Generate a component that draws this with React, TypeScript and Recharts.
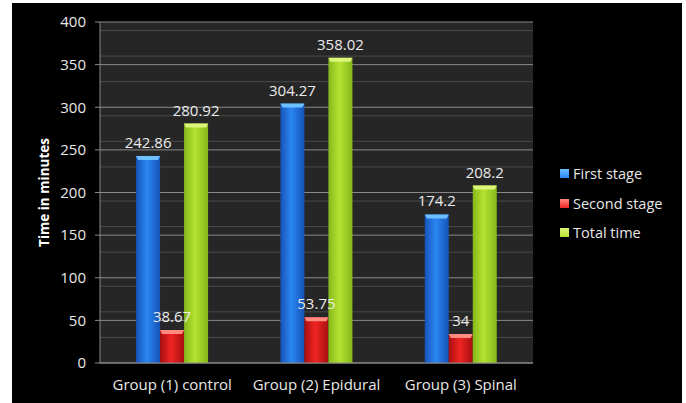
import React from "react";
import {
  BarChart,
  Bar,
  XAxis,
  YAxis,
  CartesianGrid,
  LabelList,
} from "recharts";

// groups on the x axis
const groups = ["Group (1) control", "Group (2) Epidural", "Group (3) Spinal"];

// times in minutes
const firstStage = [242.86, 304.27, 174.2];
const secondStage = [38.67, 53.75, 34];
const totalTime = [280.92, 358.02, 208.2];

const yTicks = [0, 50, 100, 150, 200, 250, 300, 350, 400];
const minorLines = [
  10, 20, 30, 40, 60, 70, 80, 90, 110, 120, 130, 140, 160, 170, 180, 190, 210,
  220, 230, 240, 260, 270, 280, 290, 310, 320, 330, 340, 360, 370, 380, 390,
];

const seriesInfo = [
  { key: "first", name: "First stage", id: "blue", edge: "#1553b8", mid: "#2b86f2", cap: "#6cc0ff" },
  { key: "second", name: "Second stage", id: "red", edge: "#a80f0f", mid: "#f02424", cap: "#ff8a80" },
  { key: "total", name: "Total time", id: "green", edge: "#84b81a", mid: "#b6e232", cap: "#dcf57a" },
];

const data = groups.map((g, i) => ({
  group: g,
  first: firstStage[i],
  second: secondStage[i],
  total: totalTime[i],
}));

const font = "'Open Sans', 'DejaVu Sans', sans-serif";

// 3D-ish bar: horizontal gradient with a lighter bevelled cap
function GlossyBar(props: any) {
  const { x, y, width, height, gradId, cap } = props;
  if (!height || height <= 0) return null;
  const c = Math.min(4, height);
  return (
    <g>
      <rect x={x} y={y} width={width} height={height} fill={`url(#${gradId})`} />
      <path
        d={`M${x},${y} L${x + width},${y} L${x + width - 2},${y + c} L${x + 2},${y + c} Z`}
        fill={cap}
      />
    </g>
  );
}

function LegendBox() {
  return (
    <div style={{ fontFamily: font, fontSize: 14.5, color: "#e8e8e8" }}>
      {seriesInfo.map((s) => (
        <div key={s.key} style={{ display: "flex", alignItems: "center", height: 29.5 }}>
          <span
            style={{
              display: "inline-block",
              width: 9,
              height: 9,
              marginRight: 4,
              background: `linear-gradient(180deg, ${s.cap}, ${s.mid})`,
            }}
          />
          {s.name}
        </div>
      ))}
    </div>
  );
}

export default function App() {
  return (
    <div style={{ position: "absolute", left: 0, top: 0, width: 686, height: 403, background: "#fff" }}>
      <div style={{ position: "absolute", left: 12, top: 3, width: 670, height: 400, background: "#000" }}>
        <BarChart
          width={670}
          height={400}
          data={data}
          margin={{ top: 19, right: 149, bottom: 10, left: 0 }}
          barCategoryGap="25%"
          barGap={0}
        >
          <defs>
            {seriesInfo.map((s) => (
              <linearGradient key={s.id} id={`grad-${s.id}`} x1="0" y1="0" x2="1" y2="0">
                <stop offset="0%" stopColor={s.edge} />
                <stop offset="45%" stopColor={s.mid} />
                <stop offset="100%" stopColor={s.edge} />
              </linearGradient>
            ))}
          </defs>
          <CartesianGrid
            vertical={false}
            fill="#262626"
            stroke="#4a4a4a"
            horizontalValues={minorLines}
          />
          <CartesianGrid vertical={false} stroke="#8a8a8a" horizontalValues={yTicks} />
          <XAxis
            dataKey="group"
            height={30}
            interval={0}
            stroke="#8a8a8a"
            tickLine={false}
            tickMargin={10}
            tick={{ fill: "#e8e8e8", fontSize: 15, fontFamily: font }}
          />
          <YAxis
            width={88}
            domain={[0, 400]}
            ticks={yTicks}
            stroke="#8a8a8a"
            tickSize={5}
            tickMargin={9}
            tick={{ fill: "#e8e8e8", fontSize: 15, fontFamily: font }}
            label={{
              value: "Time in minutes",
              angle: -90,
              position: "insideLeft",
              offset: 32,
              style: { textAnchor: "middle", fill: "#ffffff", fontWeight: "bold", fontSize: 13.5, fontFamily: font },
            }}
          />
          {seriesInfo.map((s) => (
            <Bar
              key={s.key}
              dataKey={s.key}
              name={s.name}
              isAnimationActive={false}
              fill={s.mid}
              shape={(p: any) => <GlossyBar {...p} gradId={`grad-${s.id}`} cap={s.cap} />}
            >
              <LabelList
                dataKey={s.key}
                position="top"
                offset={8}
                fill="#ececec"
                fontSize={15}
                fontFamily={font}
              />
            </Bar>
          ))}
        </BarChart>
        <div style={{ position: "absolute", left: 548, top: 156 }}>
          <LegendBox />
        </div>
      </div>
    </div>
  );
}
